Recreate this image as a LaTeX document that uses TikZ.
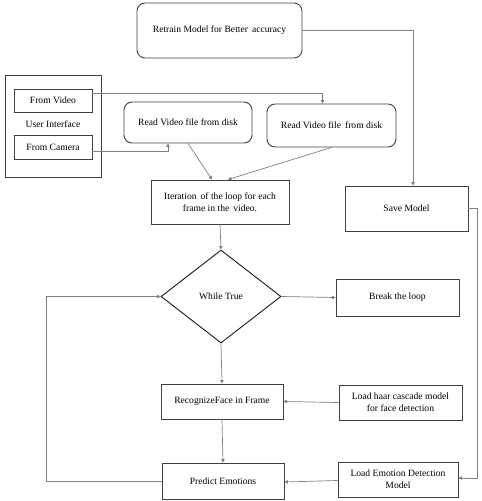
\documentclass[tikz,border=0pt]{standalone}
\usepackage{fontspec}
\setmainfont{Liberation Serif}
\usetikzlibrary{shapes.geometric,arrows.meta}
\begin{document}
\begin{tikzpicture}[x=1pt,y=-1pt,
  box/.style={draw=black!75,line width=0.9pt,rectangle,inner sep=1pt,align=center,font=\fontsize{9.6}{12}\selectfont},
  rbox/.style={box,rounded corners=8pt},
  conn/.style={draw=black!50,line width=0.7pt},
  arr/.style={conn,-{Triangle[length=3.5pt,width=3.5pt]}},
  lbl/.style={inner sep=0pt,font=\fontsize{9.6}{12}\selectfont}]
\useasboundingbox (0,0) rectangle (482,501);
\node[rbox,minimum width=165pt,minimum height=55pt] (retrain) at (219.5,30.5) {Retrain Model for Better\, accuracy};
\node[box,minimum width=123pt,minimum height=45pt] (save) at (406.5,208.5) {Save Model};
\node[box,minimum width=96pt,minimum height=102pt] (ui) at (53,126) {};
\node[lbl] (uitext) at (53,124.5) {User Interface};
\node[box,minimum width=78pt,minimum height=23pt] (fv) at (53,100.5) {From Video};
\node[box,minimum width=78pt,minimum height=24pt] (fc) at (53,147) {From Camera};
\node[rbox,minimum width=128pt,minimum height=41pt] (read1) at (188,122.5) {Read Video file from disk};
\node[rbox,minimum width=129pt,minimum height=43pt] (read2) at (331.5,125.5) {Read Video file\, from disk};
\node[box,minimum width=138pt,minimum height=44pt] (iter) at (220,202) {Iteration\, of the loop for each\\frame in the\, video.};
\node[box,draw=black!90,shape=diamond,inner sep=0pt,minimum width=120pt,minimum height=93pt] (while) at (221,296.5) {While True};
\node[box,minimum width=123pt,minimum height=37pt] (break) at (397.5,297.5) {Break the loop};
\node[box,minimum width=122pt,minimum height=35pt] (recog) at (222,401.5) {RecognizeFace in Frame};
\node[box,minimum width=123pt,minimum height=35pt] (haar) at (400.5,402.5) {Load haar cascade model\\for face detection};
\node[box,minimum width=122pt,minimum height=36pt] (pred) at (223,481) {Predict Emotions};
\node[box,minimum width=120pt,minimum height=35pt] (emo) at (398,479.5) {Load Emotion Detection\\Model};
% connectors
\draw[arr] (retrain.east) -| ([xshift=6.5pt]save.north);
\draw[arr] (save.east) -- ++(9,0) |- ([yshift=1.5pt]emo.east);
\draw[arr] ([yshift=7.5pt]fv.east) -| ([xshift=-9pt]read2.north);
\draw[arr] ([yshift=-4pt]fc.east) -| ([xshift=-20pt]read1.south);
\draw[arr] (read1.south) -- ([xshift=-8pt]iter.north);
\draw[arr] (read2.south) -- ([xshift=8pt]iter.north);
\draw[arr] (iter.south) -- (while.north);
\draw[arr] (while.east) -- (break.west);
\draw[arr] (while.south) -- (recog.north);
\draw[arr] (haar.west) -- (recog.east);
\draw[arr] (recog.south) -- (pred.north);
\draw[arr] ([yshift=-1pt]emo.west) -- ([yshift=-1pt]pred.east);
\draw[arr] (pred.west) -- ++(-115,0) |- (while.west);
\end{tikzpicture}
\end{document}
